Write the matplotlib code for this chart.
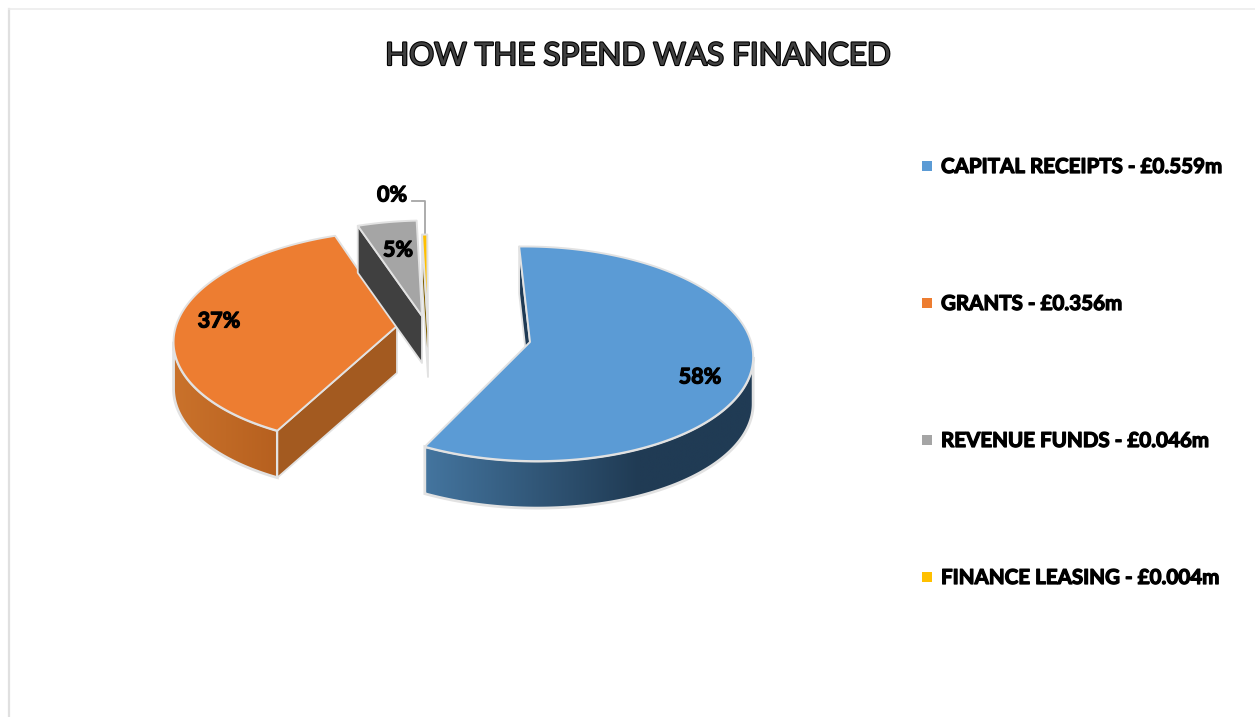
"""
Exploded 3D style pie of how the capital spend was financed
"""
import numpy as np
import matplotlib
matplotlib.use("Agg")
import matplotlib.pyplot as plt
import matplotlib.patheffects as pe
from matplotlib.colors import to_rgb
from matplotlib.patches import Polygon

plt.rcParams['font.family'] = ['Lato', 'DejaVu Sans']

sources = ["CAPITAL RECEIPTS", "GRANTS", "REVENUE FUNDS", "FINANCE LEASING"]
spend = [0.559, 0.356, 0.046, 0.004]

top_colors = ["#5b9bd5", "#ed7d31", "#a5a5a5", "#ffc000"]
cut_colors = ["#1f3a54", "#a35a20", "#404040", "#7f6000"]
side_left = ["#44759f", "#ca722b", "#6a6a6a", "#a08000"]
side_right = ["#203b54", "#b6601f", "#505050", "#7f6000"]
# how far across a wall its shading runs before it goes flat, 1 = whole wall
shade_run = [0.65, 1, 1, 1]

# where each exploded slice has its point, in pixels
apex_x = [530, 397, 422, 428]
apex_y = [342, 326, 316, 330]
label_x = [700, 219, 398, 392]
label_y = [377, 321, 250, 195]
legend_y = [166, 303, 440, 577]

start_angle = -1.5
radius_x = 221
radius_y = 106
persp = 0.11
vanish_x = 473
depth = 47
edge_col = "#e2e2e2"


def project(ax0, ay0, theta):
    """angle is clockwise from the back of the pie, near points get bigger"""
    t = np.radians(theta)
    v = -np.cos(t)
    p = 1 / (1 - persp * v)
    x = vanish_x + (ax0 - vanish_x) * p + radius_x * np.sin(t) * p
    y = ay0 + radius_y * v * p
    return x, y


def draw_wall(ax, i, a0, a1, z):
    """outer wall, only the part that faces the viewer, with a sideways gradient"""
    lo, hi = max(a0, 60), min(a1, 300)
    if hi <= lo:
        return
    thetas = np.linspace(lo, hi, 400)
    xs, ys = project(apex_x[i], apex_y[i], thetas)
    # stop at the far left and right of the rim so the band never folds over itself
    first, last = np.argmax(xs), np.argmin(xs)
    xs, ys = xs[first:last + 1], ys[first:last + 1]
    pts = list(zip(xs, ys)) + list(zip(xs[::-1], ys[::-1] + depth))

    f = np.clip(np.linspace(0, 1, 512) / shade_run[i], 0, 1)[:, None]
    c0 = np.array(to_rgb(side_left[i]))
    c1 = np.array(to_rgb(side_right[i]))
    grad = (c0 + (c1 - c0) * f)[None, :, :]
    im = ax.imshow(grad, extent=(xs.min(), xs.max(), ys.max() + depth, ys.min()),
                   aspect='auto', interpolation='bilinear', zorder=z)
    clip = Polygon(pts, closed=True, transform=ax.transData, fc='none', ec=edge_col, lw=2, zorder=z)
    ax.add_patch(clip)
    im.set_clip_path(clip)


def draw_slice(ax, i, a0, a1):
    z = 2 + i * 3
    thetas = np.linspace(a0, a1, max(int((a1 - a0) * 2), 4))
    xs, ys = project(apex_x[i], apex_y[i], thetas)
    ax0, ay0 = apex_x[i], apex_y[i]

    draw_wall(ax, i, a0, a1, z)

    # only the cut at the first angle can be seen from the front
    face = [(ax0, ay0), (xs[0], ys[0]), (xs[0], ys[0] + depth), (ax0, ay0 + depth)]
    ax.fill(*zip(*face), fc=cut_colors[i], ec=edge_col, lw=1.3, zorder=z + 1, joinstyle='round')

    outline = [(ax0, ay0)] + list(zip(xs, ys))
    ax.fill(*zip(*outline), fc=top_colors[i], ec=edge_col, lw=1.4, zorder=z + 2, joinstyle='round')


def main():
    fig = plt.figure(figsize=(12.55, 7.17), dpi=100, facecolor='white')
    ax = fig.add_axes([0, 0, 1, 1])

    # frame of the chart area
    ax.plot([9, 9], [717, 9], color="#e0e0e0", lw=1.6, zorder=1)
    ax.plot([9, 1255], [9, 9], color="#ececec", lw=1.2, zorder=1)

    total = sum(spend)
    angles = start_angle + np.concatenate([[0], np.cumsum(spend)]) / total * 360
    # front slices go on last so they cover the ones behind
    for i in [3, 2, 1, 0]:
        draw_slice(ax, i, angles[i], angles[i + 1])

    stroke = [pe.withStroke(linewidth=0.9, foreground='black')]
    for i, val in enumerate(spend):
        ax.text(label_x[i], label_y[i], f"{val / total * 100:.0f}%", fontsize=15.5, fontweight='bold',
                ha='center', va='center', color='black', path_effects=stroke, zorder=30)
        ax.scatter([926.5], [legend_y[i]], marker='s', s=46, color=top_colors[i], linewidths=0, zorder=30)
        ax.text(941, legend_y[i] + 1, f"{sources[i]} - £{val:.3f}m", fontsize=14.8, fontweight='bold',
                ha='left', va='center', color='black', path_effects=stroke, zorder=30)

    # leader for the 0% label
    lead_x, lead_y = project(apex_x[3], apex_y[3], (angles[3] + angles[4]) / 2)
    ax.plot([412, lead_x, lead_x], [201, 201, lead_y], color="#a6a6a6", lw=1.3, zorder=1)

    ax.text(638, 65, "HOW THE SPEND WAS FINANCED", fontsize=22.6, ha='center', va='baseline', color="#404040",
            path_effects=[pe.withStroke(linewidth=1.6, foreground='black')], zorder=30)

    ax.set_xlim(0, 1255)
    ax.set_ylim(717, 0)
    ax.axis('off')

    fig.savefig("out.png", dpi=100, facecolor='white')


if __name__ == "__main__":
    main()
